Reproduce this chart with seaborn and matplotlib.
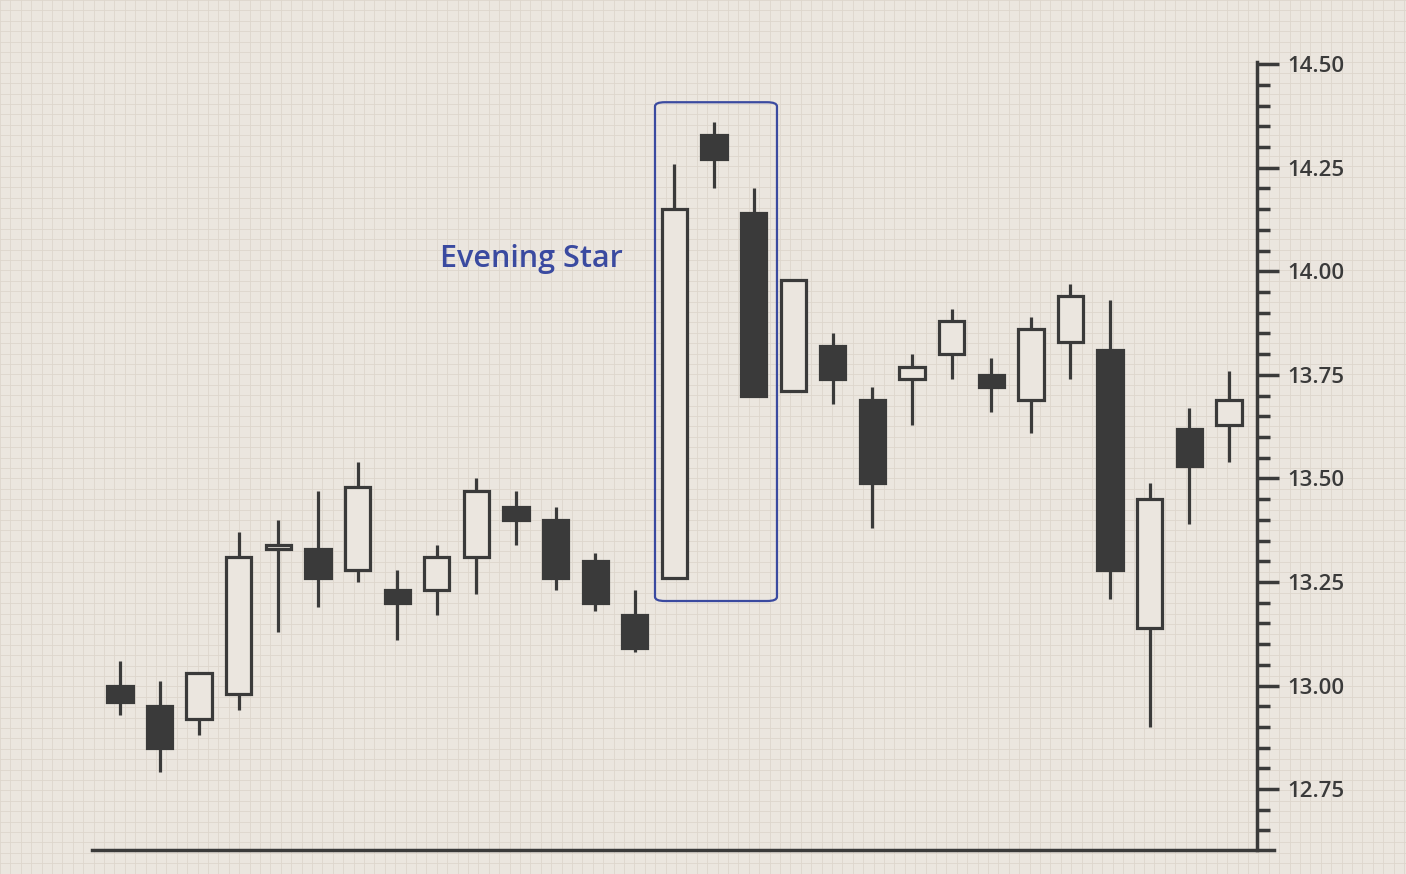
import matplotlib
matplotlib.use('Agg')
import matplotlib.pyplot as plt
import seaborn as sns
import numpy as np
from matplotlib.patches import FancyBboxPatch
from matplotlib.ticker import MultipleLocator

# OHLC values
opens = [13.00, 12.95, 12.92, 12.98, 13.33, 13.33, 13.28, 13.23, 13.23, 13.31,
         13.43, 13.40, 13.30, 13.17, 13.26, 14.33, 14.14, 13.71, 13.82, 13.69,
         13.74, 13.80, 13.75, 13.69, 13.83, 13.81, 13.14, 13.62, 13.63]
closes = [12.96, 12.85, 13.03, 13.31, 13.34, 13.26, 13.48, 13.20, 13.31, 13.47,
          13.40, 13.26, 13.20, 13.09, 14.15, 14.27, 13.70, 13.98, 13.74, 13.49,
          13.77, 13.88, 13.72, 13.86, 13.94, 13.28, 13.45, 13.53, 13.69]
highs = [13.06, 13.01, 13.03, 13.37, 13.40, 13.47, 13.54, 13.28, 13.34, 13.50,
         13.47, 13.43, 13.32, 13.23, 14.26, 14.36, 14.20, 13.98, 13.85, 13.72,
         13.80, 13.91, 13.79, 13.89, 13.97, 13.93, 13.49, 13.67, 13.76]
lows = [12.93, 12.79, 12.88, 12.94, 13.13, 13.19, 13.25, 13.11, 13.17, 13.22,
        13.34, 13.23, 13.18, 13.08, 13.26, 14.20, 13.70, 13.71, 13.68, 13.38,
        13.63, 13.74, 13.66, 13.61, 13.74, 13.21, 12.90, 13.39, 13.54]

sns.set_theme(style="white")
plt.rcParams['font.family'] = ['Open Sans', 'DejaVu Sans']

dark = "#3a3a3a"
bg = "#ebe6df"
fig = plt.figure(figsize=(14.06, 8.74), dpi=100, facecolor=bg)

# faint background grid over the whole figure
bgax = fig.add_axes([0, 0, 1, 1], facecolor=bg, zorder=-1)
bgax.set_xlim(0, 1406); bgax.set_ylim(874, 0)
for v in np.arange(0, 1406, 10.4):
    bgax.axvline(v, color="#ddd6cc", lw=0.6, zorder=0)
for v in np.arange(0, 874, 10.4):
    bgax.axhline(v, color="#ddd6cc", lw=0.6, zorder=0)
bgax.axis("off")

ax = fig.add_axes([0.0654, 0.0275, 0.8286, 0.9015])
ax.patch.set_alpha(0)

x = np.arange(len(opens))
o = np.array(opens); c = np.array(closes)
bull = c >= o
ax.vlines(x, lows, np.minimum(o, c), color=dark, lw=2.3, zorder=2)
ax.vlines(x, np.maximum(o, c), highs, color=dark, lw=2.3, zorder=2)
ax.bar(x, np.abs(c - o), bottom=np.minimum(o, c), width=0.64,
       color=np.where(bull, bg, dark), edgecolor=dark, linewidth=2.3, zorder=3)

box = FancyBboxPatch((13.51, 13.204), 3.08, 1.204,
                     boxstyle="round,pad=0,rounding_size=0.25",
                     mutation_aspect=0.04, fill=False,
                     edgecolor="#3a4aa0", lw=1.6, zorder=4)
ax.add_patch(box)
ax.text(10.4, 14.03, "Evening Star", color="#3a4aa0", fontsize=22,
        fontweight="semibold", ha="center", va="center")

ax.set_xlim(-0.707, 28.71)
ax.set_ylim(12.603, 14.505)
ax.set_xticks([])
ax.yaxis.tick_right()
ax.yaxis.set_minor_locator(MultipleLocator(0.05))
ticks = np.arange(12.75, 14.51, 0.25)
ax.set_yticks(ticks)
ax.set_yticklabels([f"{v:.2f}" for v in ticks], fontweight="semibold")
ax.tick_params(axis='y', which='major', direction='out', length=16, width=2.5,
               color=dark, labelsize=16, labelcolor=dark, pad=6)
ax.tick_params(axis='y', which='minor', direction='out', length=9, width=2.5,
               color=dark)
for s in ["top", "left"]:
    ax.spines[s].set_visible(False)
ax.spines["right"].set_color(dark); ax.spines["right"].set_linewidth(2.5)
ax.spines["bottom"].set_color(dark); ax.spines["bottom"].set_linewidth(2.5)
ax.spines["bottom"].set_bounds(-0.707, 29.15)
ax.spines["bottom"].set_clip_on(False)

fig.savefig("out.png", dpi=100, facecolor=bg)
